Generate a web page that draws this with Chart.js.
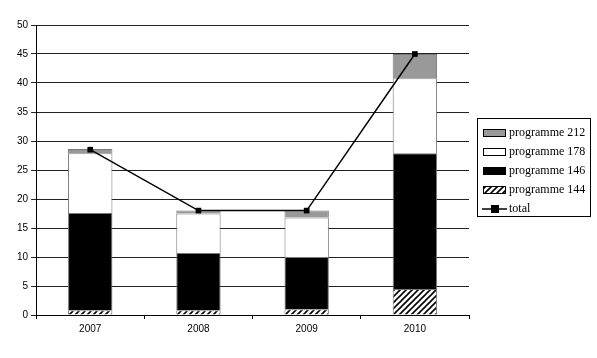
<!DOCTYPE html>
<html>
<head>
<meta charset="utf-8">
<script src="https://cdn.jsdelivr.net/npm/chart.js@4/dist/chart.umd.min.js"></script>
<style>
html,body{margin:0;padding:0;background:#fff;}
#wrap{width:597px;height:358px;position:relative;}
</style>
</head>
<body>
<div id="wrap"><canvas id="c" width="597" height="358"></canvas></div>
<script>
let years = ["2007","2008","2009","2010"];
let prog144 = [0.8, 0.8, 1.0, 4.5];
let prog146 = [16.8, 9.9, 9.0, 23.4];
let prog178 = [10.3, 6.8, 6.8, 12.9];
let prog212 = [0.7, 0.5, 1.2, 4.2];
let total = [28.5, 18, 18, 45];
let yTicks = [0,5,10,15,20,25,30,35,40,45,50];

function hatch(){
let p = document.createElement("canvas");
p.width = 6; p.height = 6;
let g = p.getContext("2d");
g.fillStyle = "#fff";
g.fillRect(0,0,6,6);
g.strokeStyle = "#000";
g.lineWidth = 1.6;
g.beginPath();
g.moveTo(-1,7); g.lineTo(7,-1);
g.moveTo(-1,1); g.lineTo(1,-1);
g.moveTo(5,7); g.lineTo(7,5);
g.stroke();
return document.getElementById("c").getContext("2d").createPattern(p,"repeat");
}
let hatchFill = hatch();

let legendItems = [
{label:"programme 212", fill:"#999999", type:"box"},
{label:"programme 178", fill:"#ffffff", type:"box"},
{label:"programme 146", fill:"#000000", type:"box"},
{label:"programme 144", fill:hatchFill, type:"box"},
{label:"total", type:"line"}
];

const legendBox = {
id:"legendBox",
afterDraw(chart){
let ctx = chart.ctx;
ctx.save();
ctx.strokeStyle = "#000";
ctx.lineWidth = 1;
ctx.strokeRect(477.5,118.5,113,98);
ctx.font = "12px 'Liberation Serif'";
ctx.textBaseline = "middle";
ctx.fillStyle = "#000";
legendItems.forEach((it,i)=>{
let y = 133 + i*19;
if(it.type=="box"){
ctx.fillStyle = it.fill;
ctx.fillRect(483,y-4,23,8);
ctx.strokeStyle = "#000";
ctx.strokeRect(483.5,y-3.5,22,7);
} else {
ctx.strokeStyle = "#000";
ctx.lineWidth = 1.5;
ctx.beginPath(); ctx.moveTo(482,y); ctx.lineTo(507,y); ctx.stroke();
ctx.fillStyle = "#000";
ctx.fillRect(491,y-4,8,8);
}
ctx.fillStyle = "#000";
ctx.fillText(it.label,509,y);
});
ctx.restore();
}
};

let barStyle = {borderColor:"#777", borderWidth:1, barPercentage:0.82, categoryPercentage:0.5, stack:"s", order:2};

new Chart(document.getElementById("c"),{
type:"bar",
data:{
labels:years,
datasets:[
{type:"line", label:"total", data:total, borderColor:"#000", backgroundColor:"#000", borderWidth:1.5, pointStyle:"rect", pointRadius:4, pointBorderWidth:0, order:1, tension:0},
Object.assign({label:"programme 144", data:prog144, backgroundColor:hatchFill}, barStyle),
Object.assign({label:"programme 146", data:prog146, backgroundColor:"#000"}, barStyle),
Object.assign({label:"programme 178", data:prog178, backgroundColor:"#fff"}, barStyle),
Object.assign({label:"programme 212", data:prog212, backgroundColor:"#999"}, barStyle)
]
},
options:{
responsive:false,
animation:false,
layout:{padding:{left:14, top:25, right:128, bottom:19}},
plugins:{legend:{display:false}, tooltip:{enabled:false}},
scales:{
x:{
stacked:true,
border:{color:"#000", width:1},
grid:{display:true, drawOnChartArea:false, offset:true, color:"#000", tickLength:4},
ticks:{color:"#000", font:{family:"'Liberation Sans'", size:10}, padding:4}
},
y:{
stacked:true,
min:0, max:50,
afterBuildTicks(axis){ axis.ticks = yTicks.map(v=>({value:v})); },
border:{color:"#000", width:1},
grid:{color:"#222", lineWidth:1, tickLength:5},
ticks:{color:"#000", font:{family:"'Liberation Sans'", size:10}, padding:3}
}
}
},
plugins:[legendBox]
});
</script>
</body>
</html>
